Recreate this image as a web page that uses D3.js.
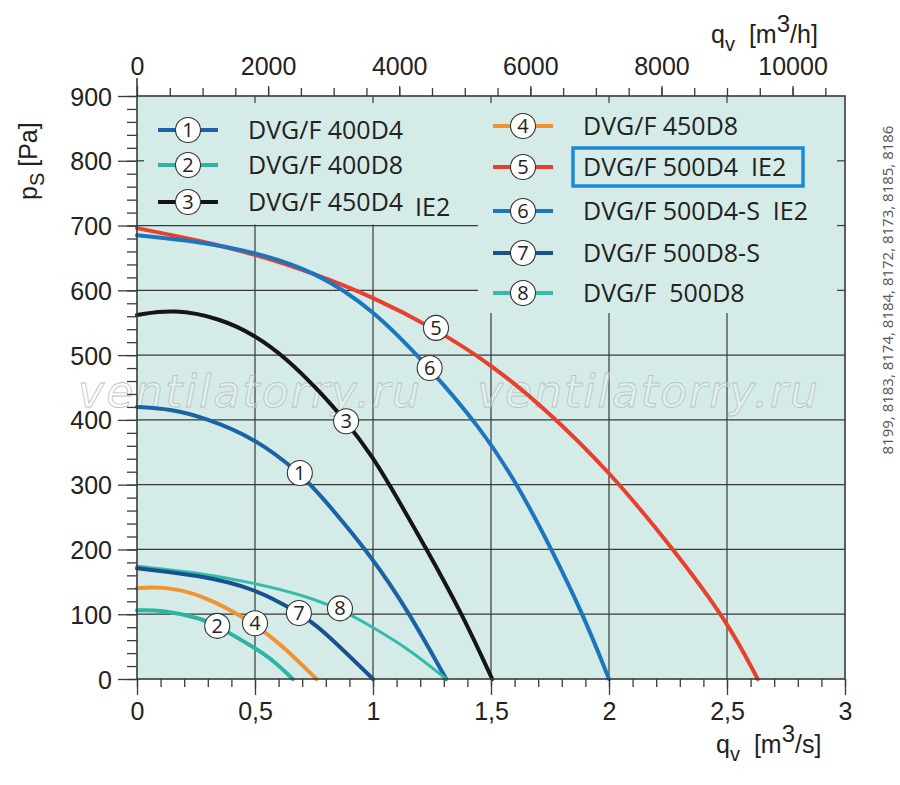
<!DOCTYPE html>
<html>
<head>
<meta charset="utf-8">
<script src="https://cdn.jsdelivr.net/npm/d3@7"></script>
<style>
  body { margin: 0; background: #fff; }
  svg { display: block; }
</style>
</head>
<body>
<svg id="chart"></svg>
<script>
// curve data, [qv m3/s, ps Pa]
const curve1 = [[0, 420], [0.14, 417], [0.283, 404], [0.5, 372], [0.69, 318], [0.775, 285], [1.0, 187], [1.157, 100], [1.31, 0]];
const curve2 = [[0, 106], [0.1, 107], [0.27, 94], [0.34, 82], [0.5, 48], [0.58, 28], [0.66, 0]];
const curve3 = [[0, 562], [0.157, 571], [0.35, 557], [0.5, 531], [0.636, 494], [0.763, 448], [0.886, 398], [1.0, 342], [1.06, 306], [1.228, 200], [1.378, 100], [1.505, 0]];
const curve4 = [[0, 140], [0.1, 143], [0.27, 132], [0.5, 86], [0.635, 45], [0.76, 0]];
const curve5 = [[0, 696], [0.25, 678], [0.5, 656], [0.75, 626], [1.0, 590], [1.267, 540], [1.5, 486], [1.737, 415], [2.0, 321], [2.27, 202], [2.5, 90], [2.63, 0]];
const curve6 = [[0, 685], [0.25, 676], [0.5, 659], [0.75, 630], [1.0, 571], [1.24, 480], [1.453, 389], [1.61, 302], [1.75, 205], [1.89, 100], [2.0, 0]];
const curve7 = [[0, 171], [0.267, 160], [0.5, 140], [0.686, 102], [0.775, 80], [1.0, 0]];
const curve8 = [[0, 174], [0.267, 164], [0.5, 148], [0.7, 130], [0.86, 108], [1.0, 80], [1.157, 45], [1.31, 0]];

const curveIds = ["1", "2", "3", "4", "5", "6", "7", "8"];
const curveNames = ["DVG/F 400D4", "DVG/F 400D8", "DVG/F 450D4", "DVG/F 450D8",
  "DVG/F 500D4\u00a0 IE2", "DVG/F 500D4-S\u00a0 IE2", "DVG/F 500D8-S", "DVG/F\u00a0 500D8"];
const curveColors = ["#1b63a6", "#2cb5a4", "#151515", "#f39230", "#e8402e", "#1d76bd", "#17528f", "#33bbab"];
const curveWidths = [4, 4, 4, 4, 4, 4, 4, 3];
// where the numbered circles sit on each curve
const labelPoints = [[0.69, 318], [0.34, 82], [0.886, 398], [0.5, 86], [1.267, 542], [1.24, 480], [0.686, 102], [0.86, 109]];

const xTicksMajor = [0, 0.5, 1, 1.5, 2, 2.5, 3];
const yTicksMajor = [0, 100, 200, 300, 400, 500, 600, 700, 800, 900];
const topTicksMajor = [0, 2000, 4000, 6000, 8000, 10000];
const codes = "8199, 8183, 8174, 8184, 8172, 8173, 8185, 8186";
const watermark = "ventilatorry.ru";

/***********************
 * dimensions
 ************************/
let dimensions = {
  width: 900,
  height: 785,
  margin: { top: 96, right: 55, bottom: 106, left: 137 },
};
dimensions.boundedWidth = dimensions.width - dimensions.margin.left - dimensions.margin.right;
dimensions.boundedHeight = dimensions.height - dimensions.margin.top - dimensions.margin.bottom;
const L = dimensions.margin.left;
const T = dimensions.margin.top;
const R = L + dimensions.boundedWidth;
const B = T + dimensions.boundedHeight;

const x = d3.scaleLinear().domain([0, 3]).range([L, R]);
const xTop = d3.scaleLinear().domain([0, 3 * 3600]).range([L, R]);
const y = d3.scaleLinear().domain([0, 900]).range([B, T]);

const svg = d3.select("#chart")
  .attr("width", dimensions.width)
  .attr("height", dimensions.height)
  .attr("viewBox", [0, 0, dimensions.width, dimensions.height]);

const bg = "#d5ebe7";
const gridColor = "#3a3a3a";
const fontTicks = "'Liberation Sans', Arial, sans-serif";
const fontLegend = "'Open Sans', 'Noto Sans', sans-serif";

/***********************
 * plot area + grid
 ************************/
svg.append("rect")
  .attr("x", L).attr("y", T)
  .attr("width", R - L).attr("height", B - T)
  .attr("fill", bg);

const grid = svg.append("g").attr("stroke", gridColor).attr("stroke-width", 1.2);
grid.selectAll(".h")
  .data(yTicksMajor.filter(d => d > 0 && d < 900))
  .join("line")
  .attr("x1", L).attr("x2", R)
  .attr("y1", d => y(d)).attr("y2", d => y(d));
grid.selectAll(".v")
  .data(xTicksMajor.filter(d => d > 0 && d < 3))
  .join("line")
  .attr("x1", d => x(d)).attr("x2", d => x(d))
  .attr("y1", T).attr("y2", B);

// legend panels hide the grid behind them
const leftBox = { x0: L, x1: 478, y0: T, y1: y(700) - 1 };
const rightBox = { x0: 478, x1: R, y0: T, y1: 313 };
[leftBox, rightBox].forEach(b => {
  svg.append("rect")
    .attr("x", b.x0).attr("y", b.y0)
    .attr("width", b.x1 - b.x0).attr("height", b.y1 - b.y0)
    .attr("fill", bg);
});
// short stubs where hidden grid lines meet the frame
const stubs = svg.append("g").attr("stroke", gridColor).attr("stroke-width", 1.2);
xTicksMajor.filter(d => d > 0 && d < 3).forEach(d => {
  stubs.append("line").attr("x1", x(d)).attr("x2", x(d)).attr("y1", T).attr("y2", T + 7);
});
stubs.append("line").attr("x1", L).attr("x2", L + 7).attr("y1", y(800)).attr("y2", y(800));
[600, 700, 800].forEach(d => {
  stubs.append("line").attr("x1", R - 8).attr("x2", R).attr("y1", y(d)).attr("y2", y(d));
});

/***********************
 * watermark
 ************************/
[[78, 420], [477, 818]].forEach(([a, b]) => {
  svg.append("text")
    .attr("x", a).attr("y", 407)
    .attr("textLength", b - a)
    .attr("lengthAdjust", "spacing")
    .attr("font-family", "'DejaVu Sans', sans-serif")
    .attr("font-style", "italic")
    .attr("font-weight", 300)
    .attr("font-size", 44)
    .attr("fill", "rgba(255,255,255,0.3)")
    .attr("stroke", "#b8c2c2")
    .attr("stroke-width", 0.8)
    .text(watermark);
});

/***********************
 * curves
 ************************/
const allCurves = [curve1, curve2, curve3, curve4, curve5, curve6, curve7, curve8];
const line = d3.line()
  .x(d => x(d[0]))
  .y(d => y(d[1]))
  .curve(d3.curveBasis);

// drawn so that blue 6 lies over red 5 where they touch
const drawOrder = [4, 5, 2, 0, 7, 6, 3, 1];
svg.append("g")
  .selectAll("path")
  .data(drawOrder)
  .join("path")
  .attr("d", i => line(allCurves[i]))
  .attr("fill", "none")
  .attr("stroke", i => curveColors[i])
  .attr("stroke-width", i => curveWidths[i])
  .attr("stroke-linecap", "round");

function badge(g, cx, cy, label) {
  g.append("circle")
    .attr("cx", cx).attr("cy", cy).attr("r", 12.5)
    .attr("fill", "#fff").attr("stroke", "#333").attr("stroke-width", 1.1);
  g.append("text")
    .attr("x", cx).attr("y", cy + 7)
    .attr("text-anchor", "middle")
    .attr("font-family", fontLegend)
    .attr("font-size", 20)
    .attr("fill", "#222")
    .text(label);
}

const badges = svg.append("g");
labelPoints.forEach((p, i) => badge(badges, x(p[0]), y(p[1]), curveIds[i]));

/***********************
 * frame + axes
 ************************/
svg.append("rect")
  .attr("x", L).attr("y", T)
  .attr("width", R - L).attr("height", B - T)
  .attr("fill", "none")
  .attr("stroke", gridColor)
  .attr("stroke-width", 1.6);
svg.append("line")
  .attr("x1", L).attr("x2", L).attr("y1", T - 18).attr("y2", T)
  .attr("stroke", gridColor).attr("stroke-width", 1.6);

const commaFmt = d => String(d).replace(".", ",");

function styleAxis(g) {
  g.select(".domain").remove();
  g.selectAll(".tick line").attr("stroke", gridColor).attr("stroke-width", 1.3);
  g.selectAll(".tick text")
    .attr("font-family", fontTicks)
    .attr("font-size", 25)
    .attr("fill", "#222");
}

// bottom
svg.append("g").attr("transform", `translate(0,${B})`)
  .call(d3.axisBottom(x).tickValues(d3.range(0, 31).map(d => d / 10)).tickSize(8).tickFormat(""))
  .call(styleAxis);
svg.append("g").attr("transform", `translate(0,${B})`)
  .call(d3.axisBottom(x).tickValues(xTicksMajor).tickSize(16).tickPadding(7).tickFormat(commaFmt))
  .call(styleAxis);

// left
svg.append("g").attr("transform", `translate(${L},0)`)
  .call(d3.axisLeft(y).tickValues(d3.range(0, 46).map(d => d * 20)).tickSize(10).tickFormat(""))
  .call(styleAxis);
svg.append("g").attr("transform", `translate(${L},0)`)
  .call(d3.axisLeft(y).tickValues(yTicksMajor).tickSize(19).tickPadding(6))
  .call(styleAxis)
  .call(g => g.selectAll(".tick text").attr("dy", "0.36em"));

// top, m3/h
svg.append("g").attr("transform", `translate(0,${T})`)
  .call(d3.axisTop(xTop).tickValues(d3.range(1, 22).map(d => d * 500)).tickSize(8).tickFormat(""))
  .call(styleAxis);
svg.append("g").attr("transform", `translate(0,${T})`)
  .call(d3.axisTop(xTop).tickValues(topTicksMajor).tickSize(10).tickPadding(11).tickFormat(d3.format("d")))
  .call(styleAxis);

/***********************
 * axis titles
 ************************/
const titleAttrs = t => t.attr("font-family", fontTicks).attr("font-size", 25).attr("fill", "#222");

const yTitle = svg.append("text")
  .attr("transform", "translate(37,200) rotate(-90)")
  .call(titleAttrs);
yTitle.append("tspan").text("p");
yTitle.append("tspan").attr("font-size", 20).attr("dy", 7).text("S");
yTitle.append("tspan").attr("dy", -7).attr("dx", 6).text("[Pa]");

function qTitle(xPos, yPos, unit) {
  const t = svg.append("text").attr("x", xPos).attr("y", yPos).call(titleAttrs);
  t.append("tspan").text("q");
  t.append("tspan").attr("font-size", 20).attr("dy", 8).text("v");
  t.append("tspan").attr("dy", -8).attr("dx", 14).text("[m");
  t.append("tspan").attr("font-size", 24).attr("dy", -11).text("3");
  t.append("tspan").attr("dy", 11).text(unit);
}
qTitle(711, 43, "/h]");
qTitle(716, 753, "/s]");

// codes on the right
svg.append("text")
  .attr("transform", "translate(893,290) rotate(-90)")
  .attr("text-anchor", "middle")
  .attr("font-family", fontLegend)
  .attr("font-size", 15)
  .attr("fill", "#555")
  .text(codes);

/***********************
 * legend
 ************************/
const legend = svg.append("g");
const legendRows = [
  { i: 0, cx: 188, cy: 130, tx: 248 },
  { i: 1, cx: 188, cy: 165, tx: 248 },
  { i: 2, cx: 188, cy: 202, tx: 248 },
  { i: 3, cx: 523, cy: 126, tx: 583 },
  { i: 4, cx: 523, cy: 167, tx: 583 },
  { i: 5, cx: 523, cy: 211, tx: 583 },
  { i: 6, cx: 523, cy: 253, tx: 583 },
  { i: 7, cx: 523, cy: 293, tx: 583 },
];
legendRows.forEach(r => {
  legend.append("line")
    .attr("x1", r.cx - 30).attr("x2", r.cx + 30)
    .attr("y1", r.cy).attr("y2", r.cy)
    .attr("stroke", curveColors[r.i])
    .attr("stroke-width", 4);
  badge(legend, r.cx, r.cy, curveIds[r.i]);
  const t = legend.append("text")
    .attr("x", r.tx).attr("y", r.cy + 9)
    .attr("font-family", fontLegend)
    .attr("font-size", 25)
    .attr("fill", "#222")
    .text(curveNames[r.i]);
  if (r.i === 2) {
    t.append("tspan").attr("dx", 12).attr("dy", 5).text("IE2");
  }
});

// highlighted model
legend.append("rect")
  .attr("x", 573).attr("y", 148)
  .attr("width", 230).attr("height", 38)
  .attr("fill", "none")
  .attr("stroke", "#1a8ad6")
  .attr("stroke-width", 3.5);
</script>
</body>
</html>
